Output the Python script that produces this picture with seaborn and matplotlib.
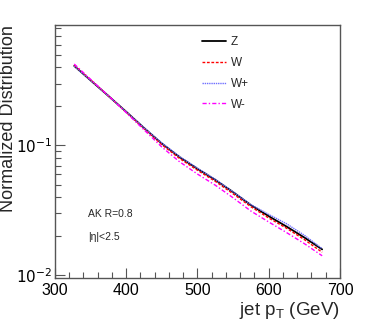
import matplotlib
matplotlib.use("Agg")
import matplotlib.pyplot as plt
import matplotlib.ticker as mticker
import seaborn as sns
import pandas as pd
import numpy as np

# ---- data ----
pt = [327, 350, 375, 400, 425, 450, 475, 500, 525, 550, 575, 600, 625, 650, 675]
z_vals = [0.411, 0.318, 0.241, 0.182, 0.1365, 0.1035, 0.0813, 0.0661, 0.0543, 0.0437,
          0.0347, 0.0285, 0.0237, 0.0195, 0.0158]
w_vals = [0.415, 0.320, 0.241, 0.181, 0.135, 0.1014, 0.0793, 0.0644, 0.0529, 0.0424,
          0.0337, 0.0276, 0.0230, 0.0188, 0.0150]
wp_vals = [0.409, 0.318, 0.241, 0.182, 0.137, 0.1045, 0.0821, 0.0668, 0.0548, 0.0439,
           0.0350, 0.0294, 0.0249, 0.0203, 0.0160]
wm_vals = [0.425, 0.324, 0.242, 0.179, 0.132, 0.0973, 0.0748, 0.0602, 0.0494, 0.0395,
           0.0312, 0.0257, 0.0213, 0.0175, 0.0141]
series_names = ["Z", "W", "W+", "W-"]
x_ticks = [300, 400, 500, 600, 700]

sns.set_style("ticks")
plt.rcParams['font.family'] = ['Liberation Sans', 'DejaVu Sans']

df = pd.DataFrame({
    "pt": pt * 4,
    "val": z_vals + w_vals + wp_vals + wm_vals,
    "sample": sum([[n] * len(pt) for n in series_names], []),
})

fig = plt.figure(figsize=(3.74, 3.28), dpi=100)
ax = fig.add_axes([0.147, 0.1524, 0.762, 0.7714])

styles = {
    "Z": dict(color="black", linestyle="-", linewidth=1.3),
    "W": dict(color="red", linestyle=(0, (2, 1.2)), linewidth=1.0),
    "W+": dict(color="#6f6fff", linestyle=(0, (1, 0.6)), linewidth=1.0),
    "W-": dict(color="magenta", linestyle=(0, (3, 1.5, 1, 1.5)), linewidth=1.0),
}
for name in series_names:
    sub = df[df["sample"] == name]
    sns.lineplot(data=sub, x="pt", y="val", ax=ax, label=name, **styles[name])

ax.set_yscale("log")
ax.set_xlim(300, 700)
ax.set_ylim(0.0095, 0.85)
ax.set_xticks(x_ticks)
ax.xaxis.set_minor_locator(mticker.MultipleLocator(20))
ax.yaxis.set_minor_locator(mticker.LogLocator(base=10, subs=np.arange(2, 10)))
ax.yaxis.set_minor_formatter(mticker.NullFormatter())
ax.yaxis.set_major_formatter(mticker.FuncFormatter(
    lambda v, p: r"$10^{%d}$" % int(round(np.log10(v)))))

for s in ax.spines.values():
    s.set_color("#555555")
    s.set_linewidth(1.0)
ax.tick_params(which="both", direction="in", top=False, right=False,
               colors="#555555", labelcolor="black", labelsize=11.5)
ax.tick_params(which="major", length=7, width=0.8)
ax.tick_params(which="minor", length=4, width=0.8)
ax.tick_params(axis="y", which="both", pad=2, labelsize=11)

ax.set_xlabel(r"jet p$_{\mathregular{T}}$ (GeV)", fontsize=13.5, loc="right")
ax.set_ylabel("Normalized Distribution", fontsize=13, loc="top")
ax.xaxis.set_label_coords(1.0, -0.085)
ax.yaxis.set_label_coords(-0.135, 1.0)

fig.text(88 / 374, 1 - 217 / 328, "AK R=0.8", fontsize=7.5)
fig.text(88 / 374, 1 - 240 / 328, "|η|<2.5", fontsize=7.5)

ax.legend(loc="upper left", bbox_to_anchor=(0.5, 0.975), frameon=False,
          fontsize=8.5, handlelength=2.0, handletextpad=0.4,
          labelspacing=0.75, borderaxespad=0)

fig.savefig("out.png", dpi=100)
